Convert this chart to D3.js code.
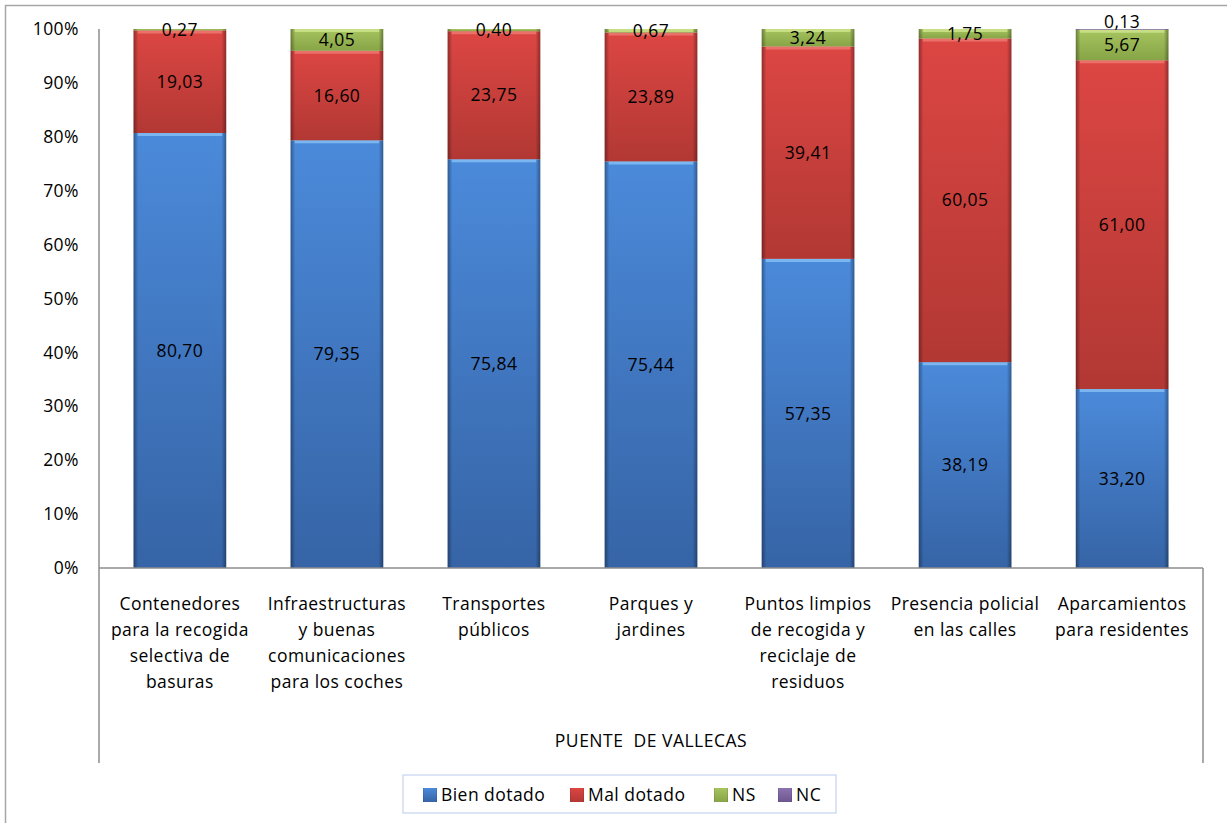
<!DOCTYPE html>
<html><head><meta charset="utf-8">
<script src="https://cdn.jsdelivr.net/npm/d3@7"></script>
<style>body{margin:0;background:#fff}svg{display:block;font-family:"Open Sans",Lato,sans-serif}text{letter-spacing:0.45px}</style>
</head><body>
<svg id="c" width="1227" height="823"></svg>
<script>
const categories = [
  ["Contenedores","para la recogida","selectiva de","basuras"],
  ["Infraestructuras","y buenas","comunicaciones","para los coches"],
  ["Transportes","públicos"],
  ["Parques y","jardines"],
  ["Puntos limpios","de recogida y","reciclaje de","residuos"],
  ["Presencia policial","en las calles"],
  ["Aparcamientos","para residentes"]
];
const groupLabel = "PUENTE  DE VALLECAS";
const seriesNames = ["Bien dotado","Mal dotado","NS","NC"];
const bienDotado = [80.70,79.35,75.84,75.44,57.35,38.19,33.20];
const malDotado  = [19.03,16.60,23.75,23.89,39.41,60.05,61.00];
const ns         = [0.27,4.05,0.40,0.67,3.24,1.75,5.67];
const nc         = [0,0,0,0,0,0,0.13];
const yTicks = [0,10,20,30,40,50,60,70,80,90,100];

const FONT = 17.5;
const topC = ["#4b8ada","#dc4643","#a6c45e","#8c74b0"];
const botC = ["#3664a6","#b23834","#87a447","#6d5590"];
const hiC  = ["#86c0f4","#f07a74","#cfe58f","#b6a2d2"];
const svg = d3.select("#c");
const defs = svg.append("defs");
topC.forEach((c,i)=>{
  const g = defs.append("linearGradient").attr("id","g"+i).attr("x1","0").attr("x2","0").attr("y1","0").attr("y2","1");
  g.append("stop").attr("offset","0").attr("stop-color",c);
  g.append("stop").attr("offset","1").attr("stop-color",botC[i]);
});
const eg = defs.append("linearGradient").attr("id","edge").attr("x1","0").attr("x2","1").attr("y1","0").attr("y2","0");
[[0,0.35],[0.05,0],[0.95,0],[1,0.35]].forEach(([o,a])=>eg.append("stop").attr("offset",o).attr("stop-color","#000").attr("stop-opacity",a));

// outer border
svg.append("rect").attr("x",5.5).attr("y",5.5).attr("width",1240).attr("height",840)
  .attr("fill","none").attr("stroke","#a6a6a6").attr("stroke-width",1.5);

const L=99, R=1203, T=29, B=568;
const x = d3.scaleBand().domain(d3.range(categories.length)).range([L,R]).paddingInner(0.41).paddingOuter(0.22);
const y = d3.scaleLinear().domain([0,100]).range([B,T]);

const data = categories.map((c,i)=>({i, v:[bienDotado[i],malDotado[i],ns[i],nc[i]]}));
const stack = d3.stack().keys([0,1,2,3]).value((d,k)=>d.v[k]);
const layers = stack(data);

layers.forEach((layer,k)=>{
  const segs = layer.filter(d=>d[1]-d[0]>0);
  const g = svg.append("g");
  g.selectAll("rect.f").data(segs).join("rect").attr("class","f")
    .attr("x",d=>x(d.data.i)).attr("width",x.bandwidth())
    .attr("y",d=>y(d[1])).attr("height",d=>y(d[0])-y(d[1]))
    .attr("fill",`url(#g${k})`);
  g.selectAll("rect.e").data(segs).join("rect").attr("class","e")
    .attr("x",d=>x(d.data.i)).attr("width",x.bandwidth())
    .attr("y",d=>y(d[1])).attr("height",d=>y(d[0])-y(d[1]))
    .attr("fill","url(#edge)");
  g.selectAll("line").data(segs.filter(d=>y(d[0])-y(d[1])>3)).join("line")
    .attr("x1",d=>x(d.data.i)+4).attr("x2",d=>x(d.data.i)+x.bandwidth()-4)
    .attr("y1",d=>y(d[1])+1.5).attr("y2",d=>y(d[1])+1.5)
    .attr("stroke",hiC[k]).attr("stroke-opacity",0.8).attr("stroke-width",3);
});

layers.forEach((layer,k)=>{
  svg.append("g").selectAll("text").data(layer.filter(d=>d[1]-d[0]>0)).join("text")
    .attr("x",d=>x(d.data.i)+x.bandwidth()/2)
    .attr("y",d=>k===3 ? y(d[1])-7 : (y(d[0])+y(d[1]))/2)
    .attr("dy","0.35em").attr("text-anchor","middle").attr("font-size",FONT).attr("fill","#000")
    .text(d=>d3.format(".2f")(d.data.v[k]).replace(".",","));
});

// axes
const yAxis = d3.axisLeft(y).tickValues(yTicks).tickFormat(d=>d+"%").tickSize(0).tickPadding(20);
const ya = svg.append("g").attr("transform",`translate(${L},0)`).call(yAxis);
ya.select(".domain").remove();
ya.selectAll("text").attr("font-size",FONT).attr("fill","#000").attr("font-family","'Open Sans',sans-serif");

const axisColor="#8c8c8c";
svg.append("line").attr("x1",L).attr("x2",L).attr("y1",T).attr("y2",763).attr("stroke",axisColor).attr("stroke-width",1.5);
svg.append("line").attr("x1",L).attr("x2",R).attr("y1",B).attr("y2",B).attr("stroke",axisColor).attr("stroke-width",1.5);
svg.append("line").attr("x1",R).attr("x2",R).attr("y1",B).attr("y2",763).attr("stroke",axisColor).attr("stroke-width",1.5);

const xl = svg.append("g");
categories.forEach((lines,i)=>{
  const cx = x(i)+x.bandwidth()/2;
  const t = xl.append("text").attr("text-anchor","middle").attr("font-size",FONT);
  lines.forEach((ln,j)=>t.append("tspan").attr("x",cx).attr("y",610+j*26).text(ln));
});
svg.append("text").attr("x",(L+R)/2).attr("y",747).attr("text-anchor","middle").attr("font-size",FONT)
  .style("letter-spacing","0.5px").style("white-space","pre").text(groupLabel);

// legend
const lg = svg.append("g");
lg.append("rect").attr("x",403).attr("y",775).attr("width",433).attr("height",38).attr("fill","#fff").attr("stroke","#c5d4ee").attr("stroke-width",1.2);
const legX=[423,570,714,778];
seriesNames.forEach((n,k)=>{
  lg.append("rect").attr("x",legX[k]).attr("y",788).attr("width",14).attr("height",14).attr("fill",`url(#g${k})`);
  lg.append("rect").attr("x",legX[k]).attr("y",788).attr("width",14).attr("height",14).attr("fill","url(#edge)");
  lg.append("text").attr("x",legX[k]+18).attr("y",795).attr("dy","0.35em").attr("font-size",FONT).text(n);
});
</script>
</body></html>
